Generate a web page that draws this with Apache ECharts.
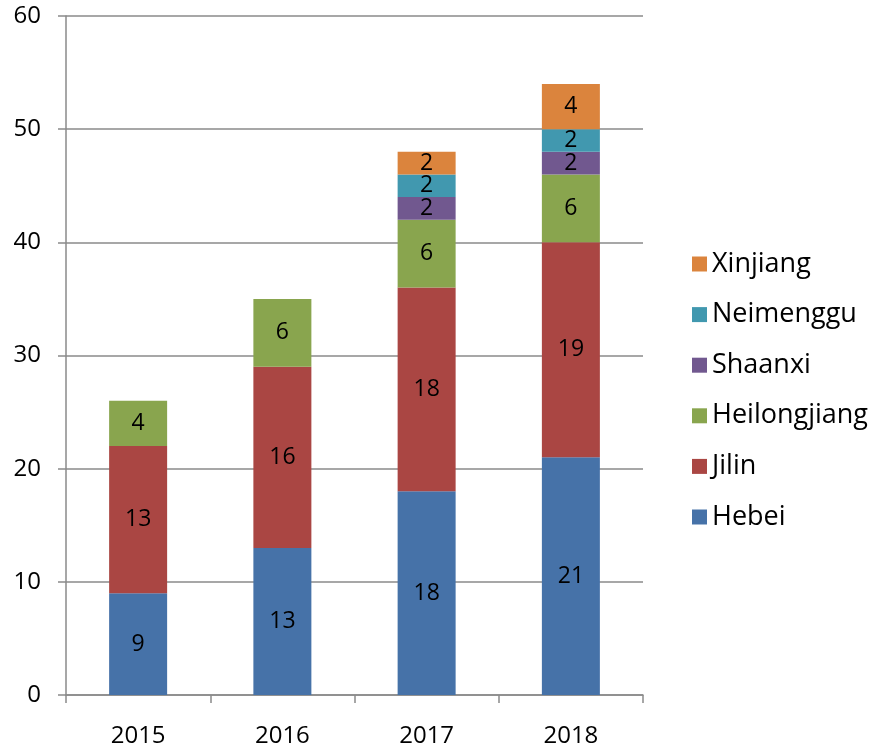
<!DOCTYPE html>
<html>
<head>
<meta charset="utf-8">
<script src="https://cdn.jsdelivr.net/npm/echarts@6/dist/echarts.min.js"></script>
<style>
  html, body { margin: 0; padding: 0; background: #fff; }
  #main { width: 874px; height: 749px; }
</style>
</head>
<body>
<div id="main"></div>
<script>
var years = ['2015', '2016', '2017', '2018'];
var hebei = [9, 13, 18, 21];
var jilin = [13, 16, 18, 19];
var heilongjiang = [4, 6, 6, 6];
var shaanxi = ['-', '-', 2, 2];
var neimenggu = ['-', '-', 2, 2];
var xinjiang = ['-', '-', 2, 4];

var myChart = echarts.init(document.getElementById('main'));

var font = 'Open Sans';
var lineColor = '#8a8a8a';

function stack(name, data, color) {
    return {
        name: name,
        type: 'bar',
        stack: 'total',
        barWidth: 58,
        data: data,
        itemStyle: { color: color },
        label: {
            show: true,
            position: 'inside',
            color: '#000',
            fontFamily: font,
            fontSize: 23
        }
    };
}

var option = {
    animation: false,
    backgroundColor: '#fff',
    grid: { left: 66, right: 231, top: 16, bottom: 54 },
    legend: {
        orient: 'vertical',
        left: 687,
        top: 245,
        itemWidth: 15,
        itemHeight: 15,
        itemGap: 22.6,
        icon: 'rect',
        textStyle: { fontFamily: font, fontSize: 27, color: '#000', lineHeight: 28, padding: [0, 0, 0, 0] },
        data: ['Xinjiang', 'Neimenggu', 'Shaanxi', 'Heilongjiang', 'Jilin', 'Hebei']
    },
    xAxis: {
        type: 'category',
        data: years,
        axisLine: { lineStyle: { color: lineColor, width: 1.5 } },
        axisTick: { show: true, length: 8, lineStyle: { color: lineColor, width: 1.5 } },
        axisLabel: { color: '#000', fontFamily: font, fontSize: 24, margin: 29 }
    },
    yAxis: {
        type: 'value',
        min: 0,
        max: 60,
        interval: 10,
        axisLine: { show: true, lineStyle: { color: lineColor, width: 1.5 } },
        axisTick: { show: true, length: 8, lineStyle: { color: lineColor, width: 1.5 } },
        axisLabel: { color: '#000', fontFamily: font, fontSize: 24, margin: 25 },
        splitLine: { lineStyle: { color: lineColor, width: 1.5 } }
    },
    series: [
        stack('Hebei', hebei, '#4672A8'),
        stack('Jilin', jilin, '#AA4643'),
        stack('Heilongjiang', heilongjiang, '#89A54E'),
        stack('Shaanxi', shaanxi, '#71588F'),
        stack('Neimenggu', neimenggu, '#4198AF'),
        stack('Xinjiang', xinjiang, '#DB843D')
    ]
};

myChart.setOption(option);
</script>
</body>
</html>
